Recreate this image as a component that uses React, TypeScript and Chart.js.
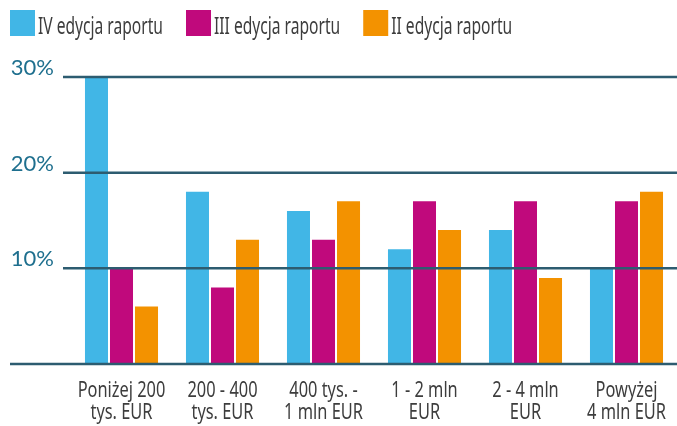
import React, { useEffect, useRef } from "react";
import { Chart, registerables } from "chart.js";

Chart.register(...registerables);

const categories: string[][] = [
  ["Poniżej 200", "tys. EUR"],
  ["200 - 400", "tys. EUR"],
  ["400 tys. -", "1 mln EUR"],
  ["1 - 2 mln", "EUR"],
  ["2 - 4 mln", "EUR"],
  ["Powyżej", "4 mln EUR"],
];
const seriesNames = ["IV edycja raportu", "III edycja raportu", "II edycja raportu"];
const edition4 = [30, 18, 16, 12, 14, 10];
const edition3 = [10, 8, 13, 17, 17, 17];
const edition2 = [6, 13, 17, 14, 9, 18];
const yTicks = [0, 10, 20, 30];
const colors = ["#41b6e6", "#c0097c", "#f39200"];

const textFont = "'Noto Sans', 'Open Sans', sans-serif";

function drawSquished(ctx: any, text: string, x: number, y: number, sx: number, align: string) {
  const w = ctx.measureText(text).width * sx;
  let left = x;
  if (align === "center") left = x - w / 2;
  ctx.save();
  ctx.translate(left, y);
  ctx.scale(sx, 1);
  ctx.textAlign = "left";
  ctx.fillText(text, 0, 0);
  ctx.restore();
  return w;
}

const overlayPlugin = {
  id: "overlay",
  afterDatasetsDraw(chart: any) {
    const { ctx, chartArea, scales } = chart;
    ctx.save();
    ctx.strokeStyle = "#2d5c70";
    ctx.lineWidth = 2.5;
    for (const v of yTicks) {
      const y = scales.y.getPixelForValue(v);
      const x0 = v === 0 ? 10 : chartArea.left - 8;
      ctx.beginPath();
      ctx.moveTo(x0, y);
      ctx.lineTo(chartArea.right, y);
      ctx.stroke();
    }
    ctx.restore();
  },
  afterDraw(chart: any) {
    const { ctx, scales, chartArea } = chart;
    ctx.save();
    // legend
    ctx.font = `24px ${textFont}`;
    ctx.textBaseline = "alphabetic";
    let x = 10;
    chart.data.datasets.forEach((ds: any) => {
      ctx.fillStyle = ds.backgroundColor;
      ctx.fillRect(x, 10, 25, 26);
      ctx.fillStyle = "#3d3d3d";
      const w = drawSquished(ctx, ds.label, x + 28, 34, 0.65, "left");
      x += 28 + w + 23;
    });
    // category labels
    ctx.font = `21px ${textFont}`;
    ctx.fillStyle = "#3d3d3d";
    (chart.data.labels as string[][]).forEach((lines, i) => {
      const cx = scales.x.getPixelForValue(i);
      lines.forEach((ln, j) => {
        drawSquished(ctx, ln, cx, chartArea.bottom + 33 + j * 21.5, 0.78, "center");
      });
    });
    ctx.restore();
  },
};

export default function App() {
  const ref = useRef<HTMLCanvasElement>(null);
  useEffect(() => {
    document.body.style.margin = "0";
    const chart = new Chart(ref.current!, {
      type: "bar",
      data: {
        labels: categories,
        datasets: [edition4, edition3, edition2].map((d, i) => ({
          label: seriesNames[i],
          data: d,
          backgroundColor: colors[i],
          borderWidth: 0,
          barPercentage: 0.92,
          categoryPercentage: 0.743,
        })),
      },
      options: {
        animation: false,
        responsive: false,
        maintainAspectRatio: false,
        layout: { padding: { top: 77, left: 0, right: 0, bottom: 0 } },
        plugins: { legend: { display: false }, tooltip: { enabled: false } },
        scales: {
          x: {
            grid: { display: false, drawTicks: false },
            border: { display: false },
            ticks: { display: false },
            afterFit(scale: any) {
              scale.height = 62;
            },
          },
          y: {
            min: 0,
            max: 30,
            grid: { display: false, drawTicks: false },
            border: { display: false },
            ticks: {
              stepSize: 10,
              color: "#1e6f8e",
              font: { family: "Lato, 'Open Sans', sans-serif", size: 22 },
              padding: 17,
              labelOffset: -9,
              callback: (v: any) => (v === 0 ? "" : v + "%"),
            },
            afterFit(scale: any) {
              scale.width = 71;
            },
          },
        },
      },
      plugins: [overlayPlugin],
    });
    return () => chart.destroy();
  }, []);
  return <canvas ref={ref} width={677} height={426} style={{ display: "block" }} />;
}
